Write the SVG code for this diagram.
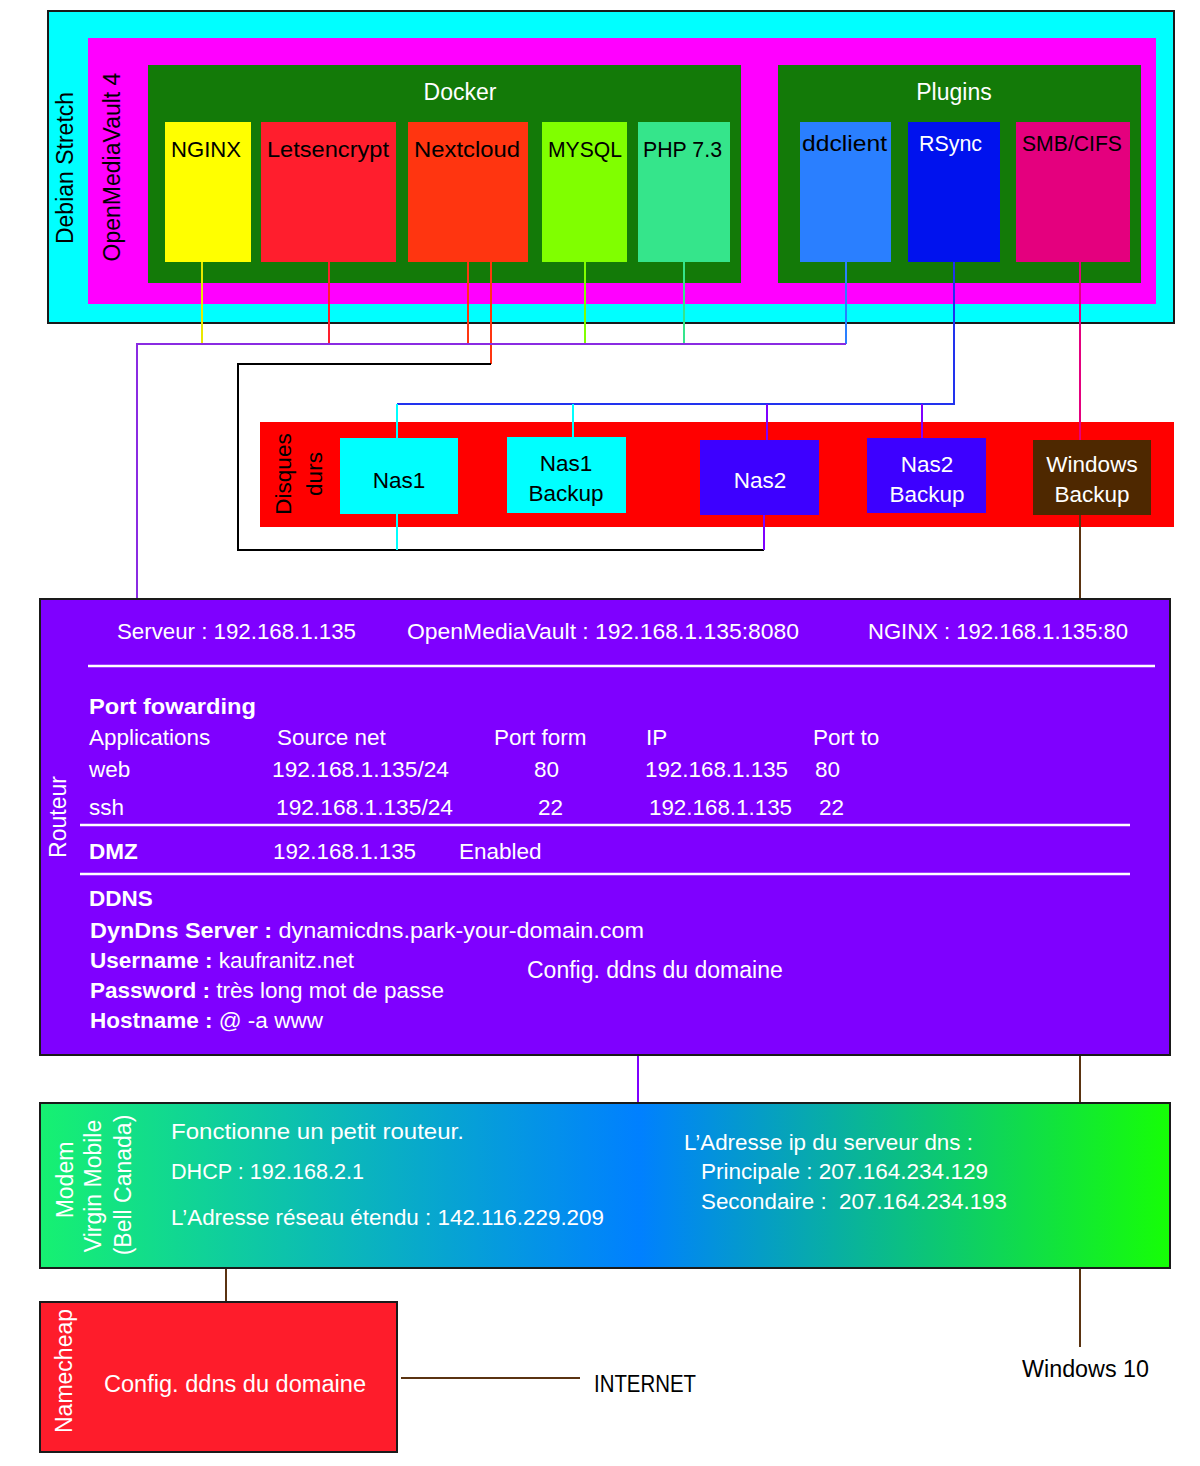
<svg xmlns="http://www.w3.org/2000/svg" width="1200" height="1466" viewBox="0 0 1200 1466">
<defs>
<linearGradient id="modemGrad" x1="0" y1="0" x2="1" y2="0">
<stop offset="0" stop-color="#16f171"/>
<stop offset="0.53" stop-color="#0080ff"/>
<stop offset="1" stop-color="#16ff06"/>
</linearGradient>
<style>
text{font-family:"Liberation Sans",Arial,sans-serif;font-size:22.5px;}
.w{fill:#ffffff;}
.k{fill:#000000;}
.mid{text-anchor:middle;}
.b{font-weight:bold;}
.n{font-size:22px;}
.r{font-size:23px;}
.box{stroke:#1a1a1a;stroke-width:2;}
.c{fill:none;stroke-width:2;}
.sep{stroke:#ffffff;stroke-width:2.5;}
</style>
</defs>
<rect width="1200" height="1466" fill="#ffffff"/>

<g id="debian">
<rect x="48" y="11" width="1126" height="312" fill="#00ffff" class="box"/>
<text class="k mid r" transform="translate(73,168) rotate(-90)">Debian Stretch</text>
</g>
<g id="omv">
<rect x="88" y="38" width="1068" height="266" fill="#ff00ff"/>
<text class="k mid r" transform="translate(120,167) rotate(-90)">OpenMediaVault 4</text>
</g>
<g id="docker">
<rect x="148" y="65" width="593" height="218" fill="#137a08"/>
<text class="w mid r" x="460" y="100">Docker</text>
</g>
<g id="plugins">
<rect x="778" y="65" width="363" height="218" fill="#137a08"/>
<text class="w mid r" x="954" y="100">Plugins</text>
</g>
<g id="nginx">
<rect x="165" y="122" width="86" height="140" fill="#ffff00"/>
<text class="k n" x="171" y="157" textLength="70" lengthAdjust="spacingAndGlyphs">NGINX</text>
</g>
<g id="letsencrypt">
<rect x="261" y="122" width="135" height="140" fill="#ff1e2d"/>
<text class="k n" x="267" y="157" textLength="122" lengthAdjust="spacingAndGlyphs">Letsencrypt</text>
</g>
<g id="nextcloud">
<rect x="408" y="122" width="120" height="140" fill="#ff3510"/>
<text class="k n" x="414" y="157" textLength="106" lengthAdjust="spacingAndGlyphs">Nextcloud</text>
</g>
<g id="mysql">
<rect x="542" y="122" width="85" height="140" fill="#80ff00"/>
<text class="k n" x="548" y="157" textLength="74" lengthAdjust="spacingAndGlyphs">MYSQL</text>
</g>
<g id="php">
<rect x="638" y="122" width="92" height="140" fill="#35e58b"/>
<text class="k n" x="643" y="157" textLength="79" lengthAdjust="spacingAndGlyphs">PHP 7.3</text>
</g>
<g id="ddclient">
<rect x="800" y="122" width="91" height="140" fill="#2a7fff"/>
<text class="k n" x="802" y="151" textLength="85" lengthAdjust="spacingAndGlyphs">ddclient</text>
</g>
<g id="rsync">
<rect x="908" y="122" width="92" height="140" fill="#0012ee"/>
<text class="w n" x="919" y="151" textLength="63" lengthAdjust="spacingAndGlyphs">RSync</text>
</g>
<g id="smb">
<rect x="1016" y="122" width="114" height="140" fill="#e4007e"/>
<text class="k n" x="1022" y="151" textLength="100" lengthAdjust="spacingAndGlyphs">SMB/CIFS</text>
</g>

<g id="disques">
<rect x="260" y="422" width="914" height="105" fill="#ff0000"/>
<text class="k mid" transform="translate(291,474) rotate(-90)">Disques</text>
<text class="k mid" transform="translate(322,474) rotate(-90)">durs</text>
</g>
<g id="nas1">
<rect x="340" y="438" width="118" height="76" fill="#00ffff"/>
<text class="k mid" x="399" y="488">Nas1</text>
</g>
<g id="nas1backup">
<rect x="507" y="437" width="119" height="76" fill="#00ffff"/>
<text class="k mid" x="566" y="471">Nas1</text>
<text class="k mid" x="566" y="501">Backup</text>
</g>
<g id="nas2">
<rect x="700" y="440" width="119" height="75" fill="#3d00ff"/>
<text class="w mid" x="760" y="488">Nas2</text>
</g>
<g id="nas2backup">
<rect x="867" y="438" width="119" height="75" fill="#3d00ff"/>
<text class="w mid" x="927" y="472">Nas2</text>
<text class="w mid" x="927" y="502">Backup</text>
</g>
<g id="windowsbackup">
<rect x="1033" y="440" width="118" height="75" fill="#4e2800"/>
<text class="w mid" x="1092" y="472">Windows</text>
<text class="w mid" x="1092" y="502">Backup</text>
</g>

<g id="routeur">
<rect x="40" y="599" width="1130" height="456" fill="#7f00ff" class="box"/>
<text class="w mid r" transform="translate(66,817) rotate(-90)">Routeur</text>
<text class="w" x="117" y="639" textLength="239" lengthAdjust="spacingAndGlyphs">Serveur : 192.168.1.135</text>
<text class="w" x="407" y="639" textLength="392" lengthAdjust="spacingAndGlyphs">OpenMediaVault : 192.168.1.135:8080</text>
<text class="w" x="868" y="639" textLength="260" lengthAdjust="spacingAndGlyphs">NGINX : 192.168.1.135:80</text>
<line class="sep" x1="88" y1="666" x2="1155" y2="666"/>
<text class="w b" x="89" y="714" textLength="167" lengthAdjust="spacingAndGlyphs">Port fowarding</text>
<text class="w" x="89" y="745">Applications</text>
<text class="w" x="277" y="745">Source net</text>
<text class="w" x="494" y="745">Port form</text>
<text class="w" x="646" y="745">IP</text>
<text class="w" x="813" y="745">Port to</text>
<text class="w" x="89" y="777">web</text>
<text class="w" x="272" y="777" textLength="177" lengthAdjust="spacingAndGlyphs">192.168.1.135/24</text>
<text class="w" x="534" y="777">80</text>
<text class="w" x="645" y="777" textLength="143" lengthAdjust="spacingAndGlyphs">192.168.1.135</text>
<text class="w" x="815" y="777">80</text>
<text class="w" x="89" y="815">ssh</text>
<text class="w" x="276" y="815" textLength="177" lengthAdjust="spacingAndGlyphs">192.168.1.135/24</text>
<text class="w" x="538" y="815">22</text>
<text class="w" x="649" y="815" textLength="143" lengthAdjust="spacingAndGlyphs">192.168.1.135</text>
<text class="w" x="819" y="815">22</text>
<line class="sep" x1="80" y1="825" x2="1130" y2="825"/>
<text class="w b" x="89" y="859">DMZ</text>
<text class="w" x="273" y="859" textLength="143" lengthAdjust="spacingAndGlyphs">192.168.1.135</text>
<text class="w" x="459" y="859">Enabled</text>
<line class="sep" x1="80" y1="874" x2="1130" y2="874"/>
<text class="w b" x="89" y="906">DDNS</text>
<text class="w" x="90" y="938" textLength="554" lengthAdjust="spacingAndGlyphs"><tspan class="b">DynDns Server :</tspan> dynamicdns.park-your-domain.com</text>
<text class="w" x="90" y="968"><tspan class="b">Username :</tspan> kaufranitz.net</text>
<text class="w" x="90" y="998"><tspan class="b">Password :</tspan> très long mot de passe</text>
<text class="w" x="90" y="1028"><tspan class="b">Hostname :</tspan> @ -a www</text>
<text class="w r" x="527" y="978">Config. ddns du domaine</text>
</g>

<g id="modem">
<rect x="40" y="1103" width="1130" height="165" fill="url(#modemGrad)" class="box"/>
<text class="w mid r" transform="translate(73,1180) rotate(-90)">Modem</text>
<text class="w mid r" transform="translate(101,1186) rotate(-90)">Virgin Mobile</text>
<text class="w mid r" transform="translate(131,1185) rotate(-90)">(Bell Canada)</text>
<text class="w" x="171" y="1139" textLength="293" lengthAdjust="spacingAndGlyphs">Fonctionne un petit routeur.</text>
<text class="w" x="171" y="1179" textLength="193" lengthAdjust="spacingAndGlyphs">DHCP : 192.168.2.1</text>
<text class="w" x="171" y="1225" textLength="433" lengthAdjust="spacingAndGlyphs">L’Adresse réseau étendu : 142.116.229.209</text>
<text class="w" x="684" y="1150" textLength="289" lengthAdjust="spacingAndGlyphs">L’Adresse ip du serveur dns :</text>
<text class="w" x="701" y="1179" textLength="287" lengthAdjust="spacingAndGlyphs">Principale : 207.164.234.129</text>
<text class="w" x="701" y="1209" textLength="306" lengthAdjust="spacingAndGlyphs">Secondaire :&#160; 207.164.234.193</text>
</g>

<g id="namecheap">
<rect x="40" y="1302" width="357" height="150" fill="#fe1c2b" class="box"/>
<text class="w mid r" transform="translate(72,1371) rotate(-90)">Namecheap</text>
<text class="w r" x="104" y="1392" textLength="262" lengthAdjust="spacingAndGlyphs">Config. ddns du domaine</text>
</g>
<g id="internet">
<text class="k" x="594" y="1392" textLength="102" lengthAdjust="spacingAndGlyphs" style="font-size:23px">INTERNET</text>
</g>
<g id="windows10">
<text class="k r" x="1022" y="1377" textLength="127" lengthAdjust="spacingAndGlyphs">Windows 10</text>
</g>

<g id="connectors">
<line class="c" x1="202" y1="262" x2="202" y2="344" stroke="#e8e800"/>
<line class="c" x1="329" y1="262" x2="329" y2="344" stroke="#ff1e2d"/>
<line class="c" x1="468" y1="262" x2="468" y2="344" stroke="#ff3510"/>
<line class="c" x1="491" y1="262" x2="491" y2="364" stroke="#ff3510"/>
<line class="c" x1="585" y1="262" x2="585" y2="344" stroke="#80ff00"/>
<line class="c" x1="684" y1="262" x2="684" y2="344" stroke="#35e58b"/>
<line class="c" x1="846" y1="262" x2="846" y2="344" stroke="#2a7fff"/>
<path class="c" d="M137,598 V344 H846" stroke="#8a2be2"/>
<path class="c" d="M491,364 H238 V550 H764" stroke="#000000"/>
<line class="c" x1="764" y1="515" x2="764" y2="550" stroke="#7f00ff"/>
<line class="c" x1="397" y1="514" x2="397" y2="550" stroke="#00ffff"/>
<path class="c" d="M954,262 V404 H397" stroke="#2233ee"/>
<line class="c" x1="397" y1="404" x2="397" y2="438" stroke="#00ffff"/>
<line class="c" x1="573" y1="404" x2="573" y2="437" stroke="#00ffff"/>
<line class="c" x1="767" y1="404" x2="767" y2="440" stroke="#7f00ff"/>
<line class="c" x1="922" y1="404" x2="922" y2="438" stroke="#7f00ff"/>
<line class="c" x1="1080" y1="262" x2="1080" y2="440" stroke="#e4007e"/>
<line class="c" x1="1080" y1="515" x2="1080" y2="598" stroke="#5a3311"/>
<line class="c" x1="638" y1="1056" x2="638" y2="1102" stroke="#7f00ff"/>
<line class="c" x1="1080" y1="1056" x2="1080" y2="1102" stroke="#5a3311"/>
<line class="c" x1="226" y1="1269" x2="226" y2="1301" stroke="#5a3311"/>
<line class="c" x1="1080" y1="1269" x2="1080" y2="1347" stroke="#5a3311"/>
<line class="c" x1="401" y1="1378" x2="580" y2="1378" stroke="#5a3311"/>
</g>
</svg>
